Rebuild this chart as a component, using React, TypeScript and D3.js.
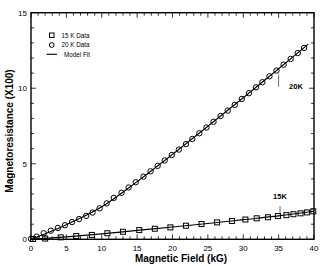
import React, { useEffect, useRef } from 'react'
import * as d3 from 'd3'

// 15 K data (field in kG, magnetoresistance x100)
const field15 = [0.3, 2.0, 4.2, 6.4, 8.6, 10.8, 13.0, 15.3, 17.5, 19.7, 21.9, 24.1, 26.3, 28.4, 30.3, 31.9, 33.5, 34.9, 36.1, 37.1, 38.1, 39.0, 39.9]
const mr15 = [0.02, 0.05, 0.13, 0.22, 0.29, 0.4, 0.5, 0.61, 0.7, 0.79, 0.9, 1.01, 1.12, 1.21, 1.31, 1.39, 1.46, 1.54, 1.6, 1.66, 1.72, 1.78, 1.85]

// 20 K data
const field20 = [0.0, 0.8, 1.8, 2.8, 3.8, 4.8, 5.8, 6.8, 7.8, 8.7, 9.7, 10.7, 11.7, 12.8, 13.8, 14.8, 15.9, 16.9, 17.9, 18.9, 19.9, 20.9, 21.9, 22.8, 23.8, 24.8, 25.8, 26.8, 27.8, 28.8, 29.8, 30.8, 31.8, 32.7, 33.7, 34.7, 35.7, 36.7, 37.7, 38.6]
const mr20 = [0.03, 0.18, 0.4, 0.57, 0.75, 0.93, 1.14, 1.34, 1.55, 1.77, 2.05, 2.38, 2.74, 3.08, 3.43, 3.78, 4.15, 4.5, 4.86, 5.22, 5.58, 5.94, 6.3, 6.64, 7.02, 7.4, 7.78, 8.16, 8.52, 8.9, 9.29, 9.67, 10.06, 10.4, 10.79, 11.17, 11.56, 11.94, 12.33, 12.67]

// model fit curves
const fitField15 = [0, 5, 10, 15, 20, 25, 30, 35, 40]
const fit15 = [0.0, 0.16, 0.36, 0.59, 0.81, 1.05, 1.3, 1.55, 1.86]
const fitField20 = [0, 5, 10, 15, 20, 25, 30, 35, 39.2]
const fit20 = [0.0, 0.97, 2.15, 3.82, 5.62, 7.48, 9.37, 11.29, 12.92]

const xTicks = [0, 5, 10, 15, 20, 25, 30, 35, 40]
const yTicks = [0, 5, 10, 15]

const W = 325
const H = 266
const left = 31
const right = 314
const top = 12.7
const bottom = 239.3
const FONT = "'Liberation Sans', Arial, sans-serif"

export default function App() {
  const ref = useRef<SVGSVGElement>(null)

  useEffect(() => {
    const svg = d3.select(ref.current)
    svg.selectAll('*').remove()

    const x = d3.scaleLinear().domain([0, 40]).range([left, right])
    const y = d3.scaleLinear().domain([0, 15]).range([bottom, top])

    const g = svg.append('g')

    // ticks, pointing inward on all four sides
    const minorX = d3.range(0, 41, 1)
    const minorY = d3.range(0, 16, 1)
    const tick = (major: boolean) => (major ? 5 : 3)

    minorX.forEach(v => {
      const len = tick(v % 5 === 0)
      g.append('line').attr('x1', x(v)).attr('x2', x(v)).attr('y1', bottom).attr('y2', bottom - len)
        .attr('stroke', '#000').attr('stroke-width', 0.8)
      g.append('line').attr('x1', x(v)).attr('x2', x(v)).attr('y1', top).attr('y2', top + len)
        .attr('stroke', '#000').attr('stroke-width', 0.8)
    })
    minorY.forEach(v => {
      const len = tick(v % 5 === 0)
      g.append('line').attr('x1', left).attr('x2', left + len).attr('y1', y(v)).attr('y2', y(v))
        .attr('stroke', '#000').attr('stroke-width', 0.8)
      g.append('line').attr('x1', right).attr('x2', right - len).attr('y1', y(v)).attr('y2', y(v))
        .attr('stroke', '#000').attr('stroke-width', 0.8)
    })

    g.append('rect')
      .attr('x', left).attr('y', top)
      .attr('width', right - left).attr('height', bottom - top)
      .attr('fill', 'none').attr('stroke', '#000').attr('stroke-width', 1.4)

    // tick labels
    g.selectAll('text.xt').data(xTicks).enter().append('text')
      .attr('x', d => x(d)).attr('y', bottom + 12)
      .attr('text-anchor', 'middle').attr('font-size', 8).attr('font-family', FONT)
      .text(d => d)
    g.selectAll('text.yt').data(yTicks).enter().append('text')
      .attr('x', left - 4).attr('y', d => y(d) + 3)
      .attr('text-anchor', 'end').attr('font-size', 8).attr('font-family', FONT)
      .text(d => d)

    // axis titles
    g.append('text')
      .attr('x', 181).attr('y', 262)
      .attr('text-anchor', 'middle').attr('font-size', 10).attr('font-weight', 'bold')
      .attr('font-family', FONT).text('Magnetic Field (kG)')
    g.append('text')
      .attr('transform', `translate(13, ${(top + bottom) / 2 + 5}) rotate(-90)`)
      .attr('text-anchor', 'middle').attr('font-size', 10).attr('font-weight', 'bold')
      .attr('font-family', FONT).text('Magnetoresistance (X100)')

    // model fit lines
    const line = d3.line<[number, number]>()
      .x(d => x(d[0])).y(d => y(d[1]))
      .curve(d3.curveMonotoneX)
    g.append('path')
      .attr('d', line(fitField15.map((f, i) => [f, fit15[i]] as [number, number])))
      .attr('fill', 'none').attr('stroke', '#000').attr('stroke-width', 1.1)
    g.append('path')
      .attr('d', line(fitField20.map((f, i) => [f, fit20[i]] as [number, number])))
      .attr('fill', 'none').attr('stroke', '#000').attr('stroke-width', 1.1)

    // data markers
    g.selectAll('rect.sq').data(field15).enter().append('rect')
      .attr('x', (d) => x(d) - 2.5).attr('y', (d, i) => y(mr15[i]) - 2.5)
      .attr('width', 5).attr('height', 5)
      .attr('fill', 'none').attr('stroke', '#000').attr('stroke-width', 1)
    g.selectAll('circle.ci').data(field20).enter().append('circle')
      .attr('cx', d => x(d)).attr('cy', (d, i) => y(mr20[i]))
      .attr('r', 2.7)
      .attr('fill', 'none').attr('stroke', '#000').attr('stroke-width', 1)

    // curve labels with leader lines
    g.append('line').attr('x1', x(35)).attr('x2', x(35)).attr('y1', y(10.9)).attr('y2', y(10.1))
      .attr('stroke', '#000').attr('stroke-width', 0.6)
    g.append('text').attr('x', 296).attr('y', 89)
      .attr('text-anchor', 'middle').attr('font-size', 7.5).attr('font-weight', 'bold')
      .attr('font-family', FONT).text('20K')
    g.append('line').attr('x1', x(35.2)).attr('x2', x(35.2)).attr('y1', y(1.65)).attr('y2', y(2.2))
      .attr('stroke', '#000').attr('stroke-width', 0.6)
    g.append('text').attr('x', 280).attr('y', 199)
      .attr('text-anchor', 'middle').attr('font-size', 7.5).attr('font-weight', 'bold')
      .attr('font-family', FONT).text('15K')

    // legend
    const lg = g.append('g').attr('font-family', FONT).attr('font-size', 6.3)
    lg.append('rect').attr('x', 49.5).attr('y', 33).attr('width', 4.5).attr('height', 4.5)
      .attr('fill', 'none').attr('stroke', '#000').attr('stroke-width', 1)
    lg.append('text').attr('x', 61.5).attr('y', 37.5).text('15 K Data')
    lg.append('circle').attr('cx', 51.7).attr('cy', 45).attr('r', 2.4)
      .attr('fill', 'none').attr('stroke', '#000').attr('stroke-width', 1)
    lg.append('text').attr('x', 61.5).attr('y', 47.3).text('20 K Data')
    lg.append('line').attr('x1', 46.5).attr('x2', 57).attr('y1', 54.3).attr('y2', 54.3)
      .attr('stroke', '#000').attr('stroke-width', 1.1)
    lg.append('text').attr('x', 64).attr('y', 56.5).text('Model Fit')
  }, [])

  return (
    <svg ref={ref} width={W} height={H} style={{ position: 'absolute', left: 0, top: 0, background: '#fff' }} />
  )
}
